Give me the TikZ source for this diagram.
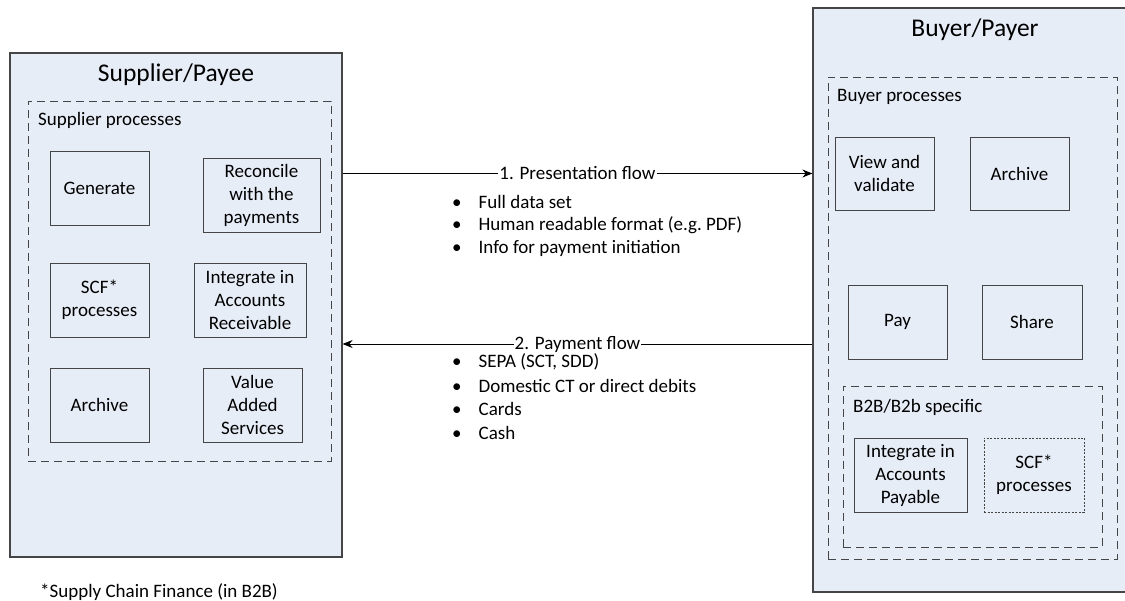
\documentclass[tikz,border=0pt]{standalone}
\usepackage{fontspec}
\setmainfont{Carlito}
\usetikzlibrary{arrows.meta}

\definecolor{panelblue}{HTML}{E7EDF7}
\definecolor{edgegray}{HTML}{454545}

\begin{document}
\begin{tikzpicture}[x=1pt,y=-1pt]
        \useasboundingbox (0,0) rectangle (1125,601);
        \fill[white] (0,0) rectangle (1125,601);
        % the two parties
        \begin{scope}[every node/.style={draw=edgegray, fill=panelblue, line width=1.2pt, inner sep=0}]
                \node (Supplier) [minimum width=332pt, minimum height=504pt] at (176,305) {};
                \node (Buyer) [minimum width=322pt, minimum height=584pt] at (974,300) {};
        \end{scope}
        \begin{scope}[every node/.style={inner sep=0, font=\fontsize{25.5}{30}\selectfont}]
                \node (SupTitle) at (176,75) {Supplier/Payee};
                \node (BuyTitle) at (975,30) {Buyer/Payer};
        \end{scope}
        % process groups
        \begin{scope}[every node/.style={draw=edgegray, line width=0.9pt, dash pattern=on 8pt off 5pt, inner sep=0}]
                \node (SupProc) [minimum width=303pt, minimum height=360pt] at (179.5,281) {};
                \node (BuyProc) [minimum width=289pt, minimum height=482pt] at (972.5,318) {};
                \node (BtoB) [minimum width=259pt, minimum height=161pt] at (972.5,466.5) {};
        \end{scope}
        \begin{scope}[every node/.style={anchor=west, inner sep=0, font=\fontsize{19}{23}\selectfont}]
                \node (SupProcLabel) at (38,120) {Supplier processes};
                \node (BuyProcLabel) at (837,97) {Buyer processes};
                \node (BtoBLabel) at (853,407) {B2B/B2b specific};
                \node (Footnote) at (40,592) {*Supply Chain Finance (in B2B)};
        \end{scope}
        % single processes
        \begin{scope}[every node/.style={draw=edgegray, fill=panelblue, line width=0.9pt, align=center, inner sep=0,
                        minimum width=99pt, minimum height=74pt, font=\fontsize{19}{23}\selectfont}]
                \node (Generate) at (99.5,188) {Generate};
                \node (Reconcile) [minimum width=117pt] at (261.5,195.5) {Reconcile\\with the\\payments};
                \node (SupSCF) at (99.5,300) {SCF*\\processes};
                \node (IntAR) [minimum width=112pt] at (250,300) {Integrate in\\Accounts\\Receivable};
                \node (SupArchive) at (99.5,405) {Archive};
                \node (VAS) at (252.5,405) {Value\\Added\\Services};
                \node (View) [minimum height=73pt] at (884.5,173.5) {View and\\validate};
                \node (BuyArchive) [minimum height=73pt] at (1019.5,173.5) {Archive};
                \node (Pay) at (897.5,322) {Pay};
                \node (Share) [minimum width=100pt] at (1032,322) {Share};
                \node (IntAP) [minimum width=113pt] at (910.5,475) {Integrate in\\Accounts\\Payable};
                \node (BuySCF) [minimum width=100pt, dash pattern=on 2pt off 1.5pt] at (1034,475) {SCF*\\processes};
        \end{scope}
        % flows
        \coordinate (PayLevel) at (0,344);
        \begin{scope}[every node/.style={fill=white, inner sep=1pt, font=\fontsize{19}{23}\selectfont}]
                \draw[line width=0.9pt, -{Stealth[length=10pt,width=8pt]}] (Supplier.east |- View) -- node (PresLabel) {1. Presentation flow} (Buyer.west |- View);
                \draw[line width=0.9pt, -{Stealth[length=10pt,width=8pt]}] (Buyer.west |- PayLevel) -- node (PayLabel) {2. Payment flow} (Supplier.east |- PayLevel);
        \end{scope}
        \begin{scope}[every node/.style={anchor=west, inner sep=0, font=\fontsize{19}{23}\selectfont}]
                \foreach \txt [count=\i] in {Full data set, Human readable format (e.g.\ PDF), Info for payment initiation}
                        \node (pres\i) at (452,202+23*\i-23) {\textbullet\hspace{17pt}\txt};
                \foreach \txt [count=\i] in {{SEPA (SCT, SDD)}, Domestic CT or direct debits, Cards, Cash}
                        \node (pay\i) at (452,362+23.6*\i-23.6) {\textbullet\hspace{17pt}\txt};
        \end{scope}
\end{tikzpicture}
\end{document}
